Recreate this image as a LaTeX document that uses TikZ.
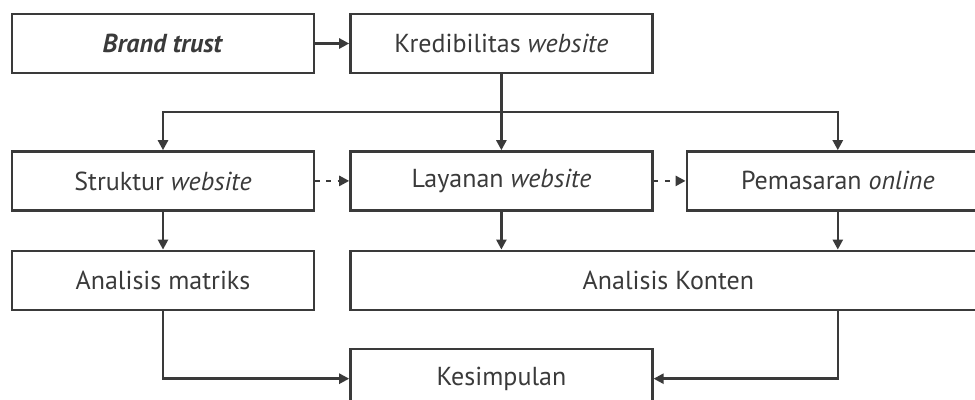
\documentclass[tikz,border=0pt]{standalone}
\usepackage{fontspec}
\setmainfont{PT Sans}
\usetikzlibrary{positioning,arrows.meta,calc}
\definecolor{ink}{HTML}{3A3A3A}

\begin{document}
\begin{tikzpicture}[>={Triangle[length=2.5mm,width=2.5mm]}, line width=1.7pt, draw=ink,
  font=\fontsize{18.5}{22}\selectfont\color{ink},
  box/.style={draw=ink,minimum width=7.55cm,minimum height=1.475cm,inner sep=0pt},
  link/.style={->,draw=ink}, dlink/.style={->,draw=ink,dash pattern=on 1.2mm off 1.6mm}]
  \useasboundingbox (0,0) rectangle (24.375,-9.975);
  \clip (0,0) rectangle (24.375,-9.975);
  \node[box](brand) at (4.075,-1.0875){\textbf{\textit{Brand trust}}};
  \node[box,right=0.85cm of brand](kred){Kredibilitas \textit{website}};
  \node[box,below=1.9cm of brand](struk){Struktur \textit{website}};
  \node[box,right=0.85cm of struk](layan){Layanan \textit{website}};
  \node[box,right=0.8cm of layan](pasar){Pemasaran \textit{online}};
  \node[box,below=0.95cm of struk](matriks){Analisis matriks};
  \node[box,minimum width=15.9cm,below=0.95cm of layan.south west,anchor=north west](konten){Analisis Konten};
  \node[box,below=0.925cm of konten.south west,anchor=north west](simpul){Kesimpulan};
  \draw[link](brand)--(kred);
  \coordinate(split) at ($(kred.south)+(0,-0.95)$);
  \draw[ink](kred.south)--(split);
  \draw[link](split)-|(struk.north); \draw[link](split)--(layan.north); \draw[link](split)-|(pasar.north);
  \draw[dlink](struk)--(layan); \draw[dlink](layan)--(pasar);
  \draw[link](struk)--(matriks);
  \draw[link](layan.south)--(layan.south|-konten.north);
  \draw[link](pasar.south)--(pasar.south|-konten.north);
  \draw[link](matriks.south)|-(simpul.west);
  \draw[link](pasar.south|-konten.south)|-(simpul.east);
\end{tikzpicture}
\end{document}
